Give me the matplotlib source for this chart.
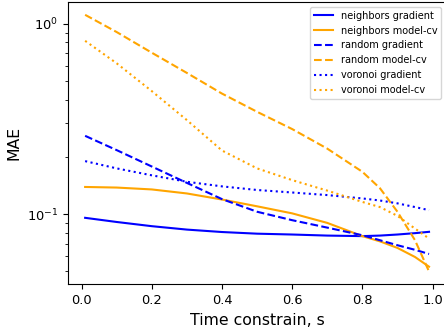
"""MAE against time constraint for three sampling strategies."""

from matplotlib import pyplot as plt

time_s = [0.01, 0.1, 0.2, 0.3, 0.4, 0.5, 0.6, 0.7, 0.8, 0.85, 0.9, 0.95, 0.99]

neighbors_gradient = [0.0957, 0.091, 0.0865, 0.083, 0.0806, 0.079, 0.0782,
                      0.0772, 0.0767, 0.0772, 0.0782, 0.0795, 0.0808]
neighbors_model_cv = [0.139, 0.138, 0.1349, 0.1285, 0.1194, 0.110, 0.101,
                      0.090, 0.0767, 0.072, 0.0665, 0.0596, 0.0530]
random_gradient = [0.258, 0.217, 0.178, 0.146, 0.120, 0.103, 0.093,
                   0.0850, 0.0775, 0.073, 0.0687, 0.065, 0.0618]
random_model_cv = [1.115, 0.905, 0.705, 0.552, 0.430, 0.345, 0.280,
                   0.221, 0.167, 0.137, 0.103, 0.073, 0.050]
voronoi_gradient = [0.190, 0.174, 0.160, 0.148, 0.140, 0.134, 0.130,
                    0.126, 0.121, 0.118, 0.114, 0.109, 0.105]
voronoi_model_cv = [0.814, 0.620, 0.443, 0.312, 0.216, 0.174, 0.151,
                    0.133, 0.116, 0.109, 0.098, 0.084, 0.0745]

series = [
    ('neighbors gradient', neighbors_gradient, 'blue', '-'),
    ('neighbors model-cv', neighbors_model_cv, 'orange', '-'),
    ('random gradient', random_gradient, 'blue', '--'),
    ('random model-cv', random_model_cv, 'orange', '--'),
    ('voronoi gradient', voronoi_gradient, 'blue', ':'),
    ('voronoi model-cv', voronoi_model_cv, 'orange', ':'),
]

fig = plt.figure(figsize=(4.44, 3.31), dpi=100)
ax = fig.add_axes([0.153, 0.141, 0.852, 0.853])

for label, values, color, style in series:
    ax.plot(time_s, values, color=color, linestyle=style, label=label, lw=1.5)

ax.set_yscale('log')
ax.set_xlabel('Time constrain, s', fontsize=11.3)
ax.set_ylabel('MAE', fontsize=11.3)
ax.tick_params(labelsize=9.4)
ax.legend(loc='upper right', fontsize=7)

fig.savefig('out.png', dpi=100)
